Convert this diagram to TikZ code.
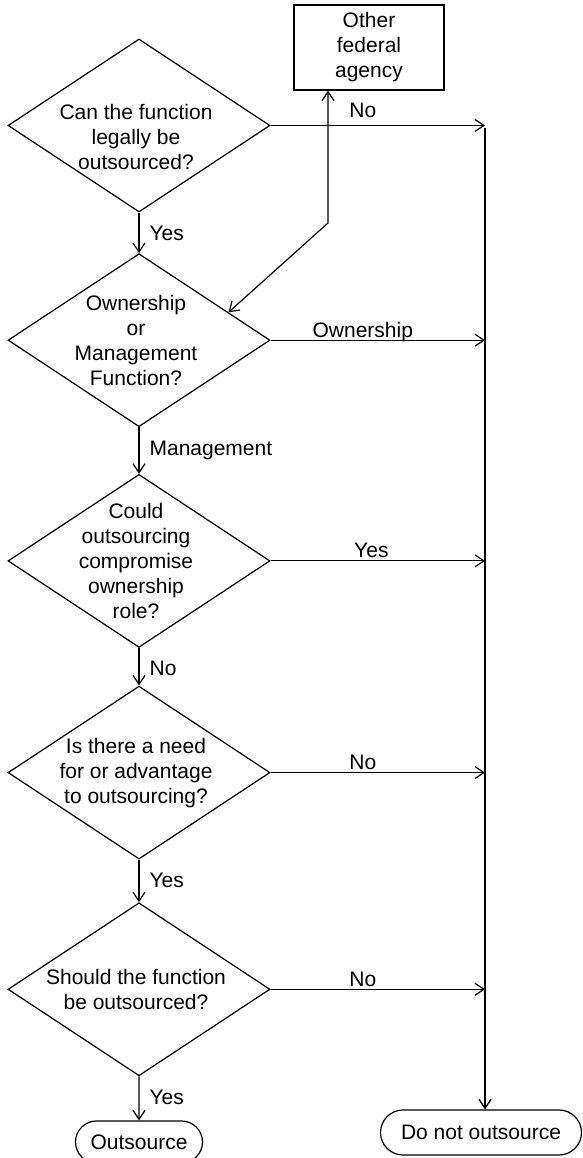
\documentclass[tikz,border=0pt]{standalone}
\usepackage{fontspec}
\setmainfont{Liberation Sans}
\usetikzlibrary{positioning}
\usetikzlibrary{calc}
\usetikzlibrary{arrows.meta}
\usetikzlibrary{shapes.geometric,shapes.misc}

\begin{document}
\begin{tikzpicture}[x=1pt, y=1pt, line width=1.2pt,
  barb/.tip={Straight Barb[length=9pt,width=12pt]},
  every node/.style={font=\fontsize{21}{25}\selectfont},
  decision/.style={diamond, draw, minimum width=262pt, minimum height=173pt, inner sep=0pt},
  qtext/.style={align=center, inner sep=0pt, xshift=-3pt},
  term/.style={rounded rectangle, draw, inner sep=0pt},
  arr/.style={-barb},
  ylab/.style={pos=0, anchor=base west, inner sep=0pt, xshift=10pt, yshift=-28pt},
  nlab/.style={pos=0.43, anchor=base, inner sep=0pt, yshift=3pt}]
\useasboundingbox (0,0) rectangle (582,1158);

\node[decision, label={[qtext, yshift=-12pt]center:Can the function\\legally be\\outsourced?}] (d1) at (139,1032.5) {};
\node[decision, below=40.5pt of d1, label={[qtext]center:Ownership\\or\\Management\\Function?}] (d2) {};
\node[decision, below=46.5pt of d2, label={[qtext]center:Could\\outsourcing\\compromise\\ownership\\role?}] (d3) {};
\node[decision, below=37.5pt of d3, label={[qtext]center:Is there a need\\for or advantage\\to outsourcing?}] (d4) {};
\node[decision, below=42.5pt of d4, label={[qtext]center:Should the function\\be outsourced?}] (d5) {};
\node[term, below=44pt of d5, minimum width=127pt, minimum height=42pt] (out) {Outsource};
\node[term, minimum width=201pt, minimum height=45pt] (noout) at (481,25.5) {Do not outsource};
\node[draw, align=center, minimum width=150pt, minimum height=85pt, inner sep=0pt] (agency) at (369,1110.5) {Other\\federal\\agency};

\coordinate (bustop) at (485,1030);
\coordinate (kink) at (328,935);
\coordinate (d2side) at ($(d2.north)!0.68!(d2.east)$);

% down the left column
\draw[arr] (d1) -- node[ylab] {Yes} (d2);
\draw[arr] (d2) -- node[ylab] {Management} (d3);
\draw[arr] (d3) -- node[ylab] {No} (d4);
\draw[arr] (d4) -- node[ylab] {Yes} (d5);
\draw[arr] (d5) -- node[ylab] {Yes} (out);

% across to the right
\draw[arr] (d1.east) -- node[nlab, yshift=5pt] {No} (d1.east -| bustop);
\draw[arr] (d2.east) -- node[nlab] {Ownership} (d2.east -| bustop);
\draw[arr] (d3.east) -- node[nlab, pos=0.47] {Yes} (d3.east -| bustop);
\draw[arr] (d4.east) -- node[nlab] {No} (d4.east -| bustop);
\draw[arr] (d5.east) -- node[nlab] {No} (d5.east -| bustop);
\draw[arr] (bustop) -- (noout.north -| bustop);

\draw[barb-barb] (d2side) -- (kink) -- (kink |- agency.south);
\end{tikzpicture}
\end{document}
